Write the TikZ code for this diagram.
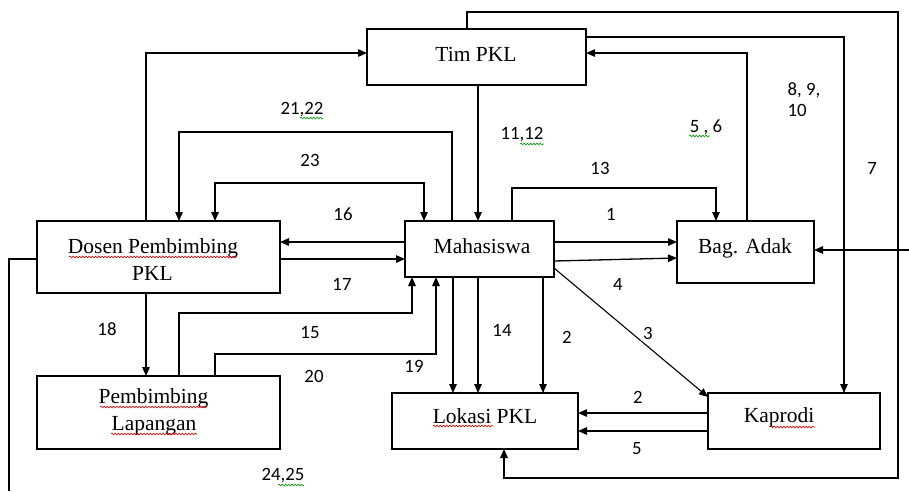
\documentclass[tikz,border=0pt]{standalone}
\usepackage{fontspec}
\setmainfont{Liberation Serif}
\newfontfamily\numfont{Carlito}
\usetikzlibrary{arrows.meta,decorations.pathmorphing}
\begin{document}
\begin{tikzpicture}[x=1pt,y=-1pt,
  every path/.style={line width=1.3pt},
  box/.style={draw, line width=1.3pt, inner sep=0pt, outer sep=0pt},
  txt/.style={inner sep=0pt, anchor=base, font=\fontsize{21.5}{27}\selectfont},
  arr/.style={-{Triangle[length=9pt,width=7.5pt]}},
  arrb/.style={{Triangle[length=9pt,width=7.5pt]}-{Triangle[length=9pt,width=7.5pt]}},
  num/.style={inner sep=0pt, font=\numfont\fontsize{18.8}{21}\selectfont, align=left},
  sq/.style={line width=0.6pt, decorate, decoration={snake, segment length=3.2pt, amplitude=0.9pt}},
  sqr/.style={sq, draw=red!85!black},
  sqg/.style={sq, draw=green!60!black}
]
\useasboundingbox (0,0) rectangle (909,491);

% boxes
\node[box, minimum width=219pt, minimum height=56pt] (tim) at (476.5,57) {};
\node[txt] (timt) at (476,61) {Tim PKL};
\node[box, minimum width=149pt, minimum height=56pt] (mhs) at (479.5,249) {};
\node[txt] (mhst) at (482,253) {Mahasiswa};
\node[box, minimum width=137pt, minimum height=62pt] (adak) at (745.5,252) {};
\node[txt] (adakt) at (745,253) {Bag. Adak};
\node[box, minimum width=243pt, minimum height=72pt] (dosen) at (158.5,257) {};
\node[txt] (dosent1) at (153,253) {Dosen Pembimbing};
\node[txt] (dosent2) at (152.5,280) {PKL};
\node[box, minimum width=243pt, minimum height=73pt] (pemb) at (158.5,412.5) {};
\node[txt] (pembt1) at (153.5,403) {Pembimbing};
\node[txt] (pembt2) at (154,430) {Lapangan};
\node[box, minimum width=186pt, minimum height=56pt] (lok) at (485,421) {};
\node[txt] (lokt) at (485,423) {Lokasi PKL};
\node[box, minimum width=172pt, minimum height=56pt] (kap) at (794,421) {};
\node[txt] (kapt) at (779,422) {Kaprodi};

\coordinate (rin) at (909,250);
\coordinate (bl) at (9,491);

% connectors
\draw[arr] (146,0 |- dosen.north) |- (tim.west |- 0,53);
\draw[arr] (452,0 |- mhs.north) |- (179,132) -- (179,0 |- dosen.north);
\draw[arrb] (215,0 |- dosen.north) |- (424,183) -- (424,0 |- mhs.north);
\draw[arr] (mhs.west |- 0,242) -- (dosen.east |- 0,242);
\draw[arr] (dosen.east |- 0,259) -- (mhs.west |- 0,259);
\draw[arr] (478,0 |- tim.south) -- (478,0 |- mhs.north);
\draw[arr] (512,0 |- mhs.north) |- (716,188) -- (716,0 |- adak.north);
\draw[arr] (mhs.east |- 0,242) -- (adak.west |- 0,242);
\draw[arr] (mhs.east |- 0,261) -- (adak.west |- 0,258);
\draw[arr] (747,0 |- adak.north) |- (tim.east |- 0,53);
\draw[arr] (tim.east |- 0,37) -| (844,0 |- kap.north);
\draw[arr] (467,0 |- tim.north) |- (898,12) |- (504,478) -- (504,0 |- lok.south);
\draw[arr] (rin) -- (adak.east |- rin);
\draw[arr, line width=1.1pt] (mhs.east |- 0,268) -- (kap.west |- 0,397);
\draw[arr] (453,0 |- mhs.south) -- (453,0 |- lok.north);
\draw[arr] (478,0 |- mhs.south) -- (478,0 |- lok.north);
\draw[arr] (543,0 |- mhs.south) -- (543,0 |- lok.north);
\draw[arr] (179,0 |- pemb.north) |- (412,313) -- (412,0 |- mhs.south);
\draw[arr] (215,0 |- pemb.north) |- (436,354) -- (436,0 |- mhs.south);
\draw[arr] (146,0 |- dosen.south) -- (146,0 |- pemb.north);
\draw[arr] (kap.west |- 0,413) -- (lok.east |- 0,413);
\draw[arr] (kap.west |- 0,431) -- (lok.east |- 0,431);
\draw (dosen.west |- 0,259) -| (bl);

% labels
\node[num] (l2122) at (302,110) {21,22};
\node[num] (l23) at (310,160) {23};
\node[num] (l16) at (343,214) {16};
\node[num] (l17) at (342,284) {17};
\node[num] (l1112) at (522,135) {11,12};
\node[num] (l13) at (600,168) {13};
\node[num] (l1) at (611,214) {1};
\node[num] (l56) at (706,127) {5 , 6};
\node[num, anchor=west] (l8910) at (787,100) {8, 9,\\ 10};
\node[num] (l7) at (872,168) {7};
\node[num] (l4) at (618,284) {4};
\node[num] (l14) at (502,330) {14};
\node[num] (l2a) at (567,337) {2};
\node[num] (l3) at (648,333) {3};
\node[num] (l2b) at (638,397) {2};
\node[num] (l5) at (637,449) {5};
\node[num] (l15) at (310,333) {15};
\node[num] (l18) at (107,329) {18};
\node[num] (l20) at (314,376) {20};
\node[num] (l19) at (414,366) {19};
\node[num] (l2425) at (283,476) {24,25};

% spell-check squiggles
\draw[sqr] (69,257) -- (237,257);
\draw[sqr] (100,407) -- (207,407);
\draw[sqr] (111,434) -- (197,434);
\draw[sqr] (433,426) -- (493,426);
\draw[sqr] (770,427) -- (815,427);
\draw[sqg] (300,118) -- (323,118);
\draw[sqg] (520,144) -- (544,144);
\draw[sqg] (689,136) -- (710,136);
\draw[sqg] (278,485) -- (304,485);
\end{tikzpicture}
\end{document}
